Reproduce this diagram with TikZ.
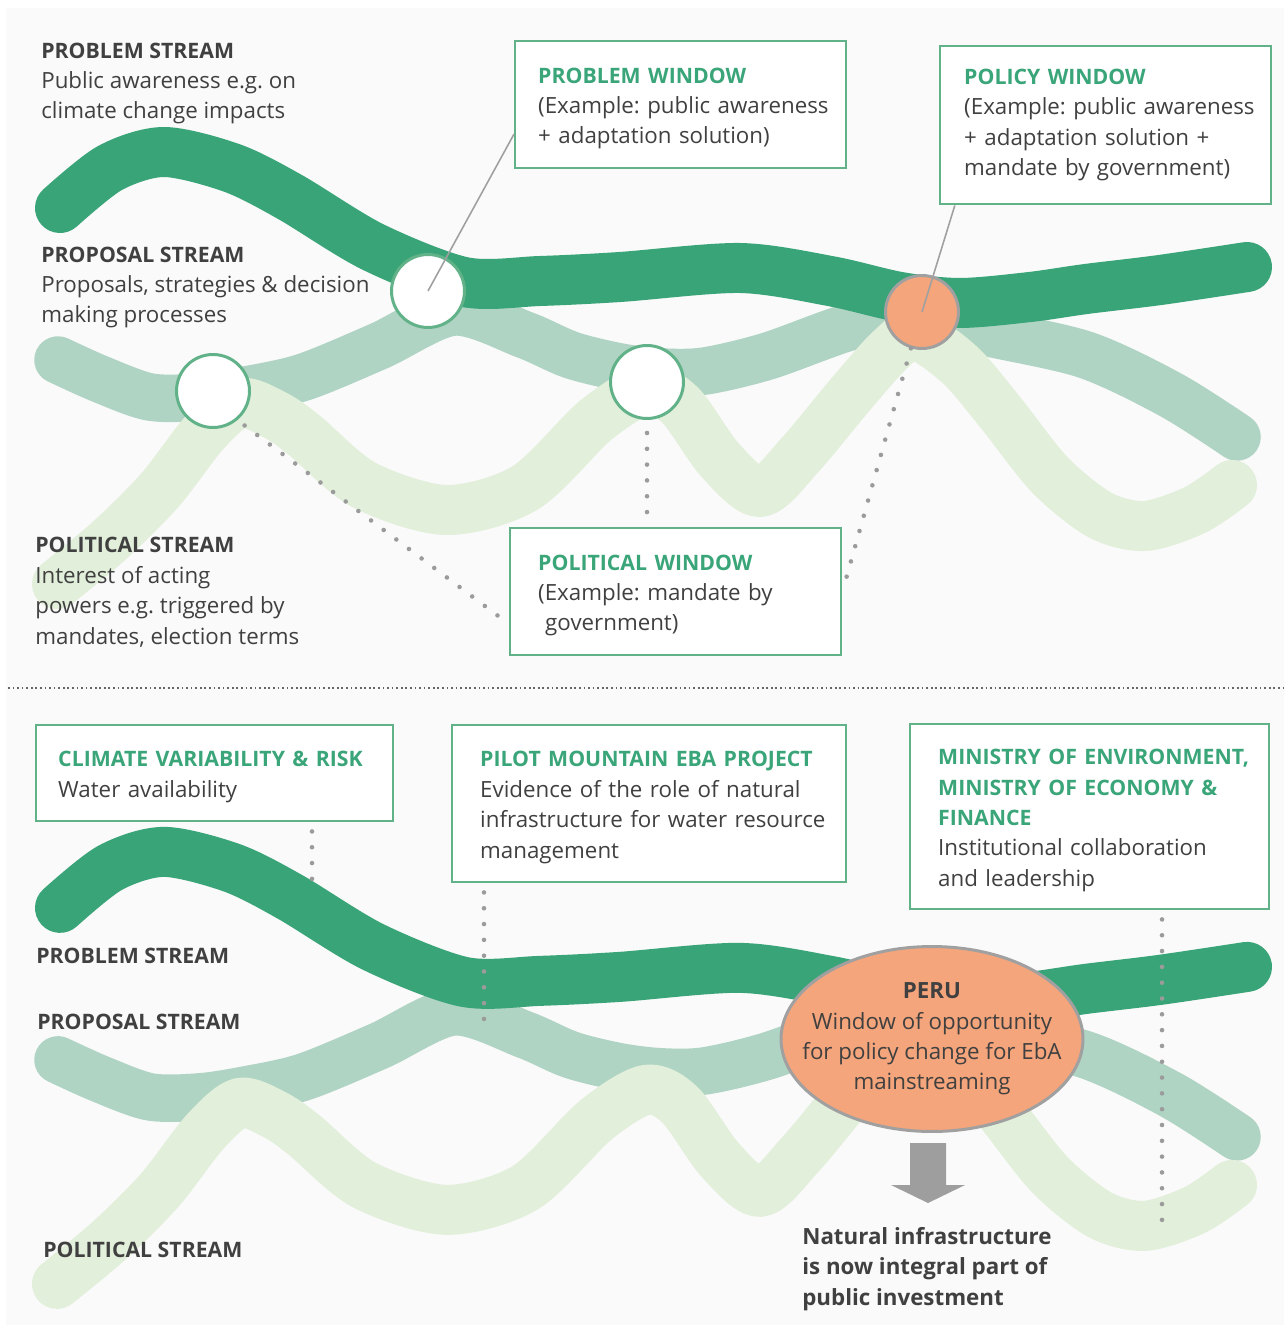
\documentclass[tikz,border=0pt]{standalone}
\usepackage{fontspec}
\setmainfont{Open Sans}
\usepackage{tikz}
\usetikzlibrary{positioning, shapes.geometric, calc}
\frenchspacing

\definecolor{problemgreen}{RGB}{57,164,120}
\definecolor{proposalgreen}{RGB}{176,212,195}
\definecolor{politicalgreen}{RGB}{226,239,218}
\definecolor{boxgreen}{RGB}{98,178,137}
\definecolor{titlegreen}{RGB}{58,165,121}
\definecolor{windoworange}{RGB}{244,165,123}
\definecolor{txtgray}{RGB}{64,64,64}
\definecolor{dotgray}{RGB}{155,155,155}
\definecolor{linegray}{RGB}{160,160,160}
\definecolor{arrowgray}{RGB}{158,158,158}
\definecolor{bggray}{RGB}{250,250,250}

\newcommand{\hd}[1]{{\fontsize{12.1pt}{17.3pt}\selectfont\bfseries #1}}
\newcommand{\boxhd}[1]{{\fontsize{12.1pt}{17.3pt}\selectfont\bfseries\color{titlegreen}#1}}

\tikzset{
  problemstream/.style={draw=problemgreen, line width=1cm, line cap=round, line join=round},
  proposalstream/.style={draw=proposalgreen, line width=0.95cm, line cap=round, line join=round},
  politicalstream/.style={draw=politicalgreen, line width=1cm, line cap=round, line join=round},
  streamtext/.style={anchor=base west, align=left, inner sep=0pt, text=txtgray,
    font=\fontsize{12.7pt}{17.3pt}\selectfont},
  windowbox/.style={draw=boxgreen, line width=1.4pt, fill=white, anchor=north west,
    inner xsep=0pt, inner ysep=0pt, align=left, text=txtgray, text height=13pt,
    font=\fontsize{12.7pt}{17.3pt}\selectfont, execute at begin node={\leftskip=#1}},
  junction/.style={circle, draw=boxgreen, line width=1.7pt, fill=white, minimum size=1.46cm, inner sep=0pt},
  dotline/.style={draw=dotgray, line width=2.6pt, line cap=round, dash pattern=on 0pt off 9pt},
  pointer/.style={draw=linegray, line width=0.9pt}
}

\begin{document}
\begin{tikzpicture}[x=0.02cm, y=-0.02cm]

\useasboundingbox (0,0) rectangle (1284,1327);
\fill[white] (0,0) rectangle (1284,1327);
\fill[bggray] (6,8) rectangle (1284,1325);

% separator between the two panels
\draw[txtgray!80, line width=1pt, dash pattern=on 1pt off 1.6pt] (8,688) -- (1284,688);

% the three streams, upper panel and lower panel
\foreach \dy in {0,14}{
\begin{scope}[yshift=-\dy cm]
\draw[proposalstream] plot[smooth] coordinates {(58,360) (100,379) (150,397) (200,397) (246,390) (304,377) (379,346) (454,312) (525,335) (571,355) (620,367) (662,372) (705,371) (768,356) (853,326) (922,316) (985,332) (1086,355) (1171,395) (1237,437)};
\draw[politicalstream] plot[smooth] coordinates {(57,584) (110,540) (160,490) (205,432) (240,403) (275,415) (304,435) (364,485) (446,510) (525,488) (596,420) (646,390) (680,405) (720,460) (760,492) (800,455) (850,395) (890,350) (916,335) (960,365) (1000,412) (1050,475) (1100,515) (1145,526) (1195,510) (1232,485)};
\draw[problemstream] plot[smooth] coordinates {(60,208) (110,168) (164,152) (232,168) (290,197) (373,247) (464,282) (540,281) (620,277) (740,268) (830,281) (900,297) (960,303) (1030,297) (1086,289) (1160,280) (1247,267)};
\end{scope}
}

% upper panel: windows on the streams
\node[junction] (c1) at (213,391) {};
\node[junction] (c2) at (428,291) {};
\node[junction] (c3) at (647,382) {};
\node[junction, draw=linegray, fill=windoworange] (polc) at (922,312) {};

\node[windowbox=0.46cm, text width=6.62cm, minimum height=2.54cm] (probwin) at (514,40)
  {\boxhd{PROBLEM WINDOW}\\(Example: public awareness\\+ adaptation solution)};
\node[windowbox=0.48cm, text width=6.62cm, minimum height=3.16cm, text height=8.3pt] (policywin) at (939,45)
  {\boxhd{POLICY WINDOW}\\(Example: public awareness\\+ adaptation solution +\\mandate by government)};
\node[windowbox=0.56cm, text width=6.62cm, minimum height=2.54cm] (politwin) at (509,527)
  {\boxhd{POLITICAL WINDOW}\\(Example: mandate by\\\hspace*{0.14cm}government)};

\draw[pointer] (probwin.190) -- (c2.center);
\draw[pointer] (policywin.208.5) -- (polc.center);

\draw[dotline, shorten <=0.18cm, shorten >=0.12cm] (c1.-50) -- (politwin.191);
\draw[dotline, shorten <=0.26cm, shorten >=0.28cm] (c3.south) -- (c3.south |- politwin.north);
\draw[dotline, shorten >=0.1cm] (polc.-107) -- (politwin.east);

\node[streamtext] (probtxt) at (41,119) {\hd{PROBLEM STREAM}\\Public awareness e.g. on\\climate change impacts};
\node[streamtext] (proptxt) at (41,323) {\hd{PROPOSAL STREAM}\\Proposals, strategies \& decision\\making processes};
\node[streamtext] (poltxt) at (35,644) {\hd{POLITICAL STREAM}\\Interest of acting\\powers e.g. triggered by\\mandates, election terms};

% lower panel: the Peru case
\node[windowbox=0.44cm, text width=7.14cm, minimum height=1.92cm] (climbox) at (35,724)
  {\boxhd{CLIMATE VARIABILITY \& RISK}\\Water availability};
\node[windowbox=0.56cm, text width=7.88cm, minimum height=3.14cm] (pilotbox) at (451,724)
  {\boxhd{PILOT MOUNTAIN EBA PROJECT}\\Evidence of the role of natural\\infrastructure for water resource\\management};
\node[windowbox=0.56cm, text width=7.18cm, minimum height=3.7cm] (minbox) at (909,723)
  {\boxhd{MINISTRY OF ENVIRONMENT,}\\\boxhd{MINISTRY OF ECONOMY \&}\\\boxhd{FINANCE}\\Institutional collaboration\\and leadership};

\coordinate (climend) at (312,886);
\coordinate (pilotend) at (484,1022);
\coordinate (minend) at (1162,1222);
\draw[dotline, shorten <=0.18cm] (climend |- climbox.south) -- (climend);
\draw[dotline, shorten <=0.18cm] (pilotend |- pilotbox.south) -- (pilotend);
\draw[dotline, shorten <=0.18cm] (minend |- minbox.south) -- (minend);

\node[ellipse, draw=linegray, line width=1.7pt, fill=windoworange, minimum width=6.04cm, minimum height=3.7cm,
  inner xsep=-0.56cm, inner ysep=0pt, align=center, text=txtgray, font=\fontsize{12.7pt}{17.3pt}\selectfont] (peru) at (932,1039)
  {\textbf{PERU}\\Window of opportunity\\for policy change for EbA\\mainstreaming};

\fill[arrowgray] (910,1143) -- (946,1143) -- (946,1185) -- (965,1185) -- (928,1203) -- (891,1185) -- (910,1185) -- cycle;

\node[streamtext, font=\fontsize{12.7pt}{17.3pt}\selectfont\bfseries] (result) at (802,1305)
  {Natural infrastructure\\is now integral part of\\public investment};

\node[streamtext] (probtxt2) at (36,963) {\hd{PROBLEM STREAM}};
\node[streamtext] (proptxt2) at (37,1029) {\hd{PROPOSAL STREAM}};
\node[streamtext] (poltxt2) at (43,1257) {\hd{POLITICAL STREAM}};

\end{tikzpicture}
\end{document}
